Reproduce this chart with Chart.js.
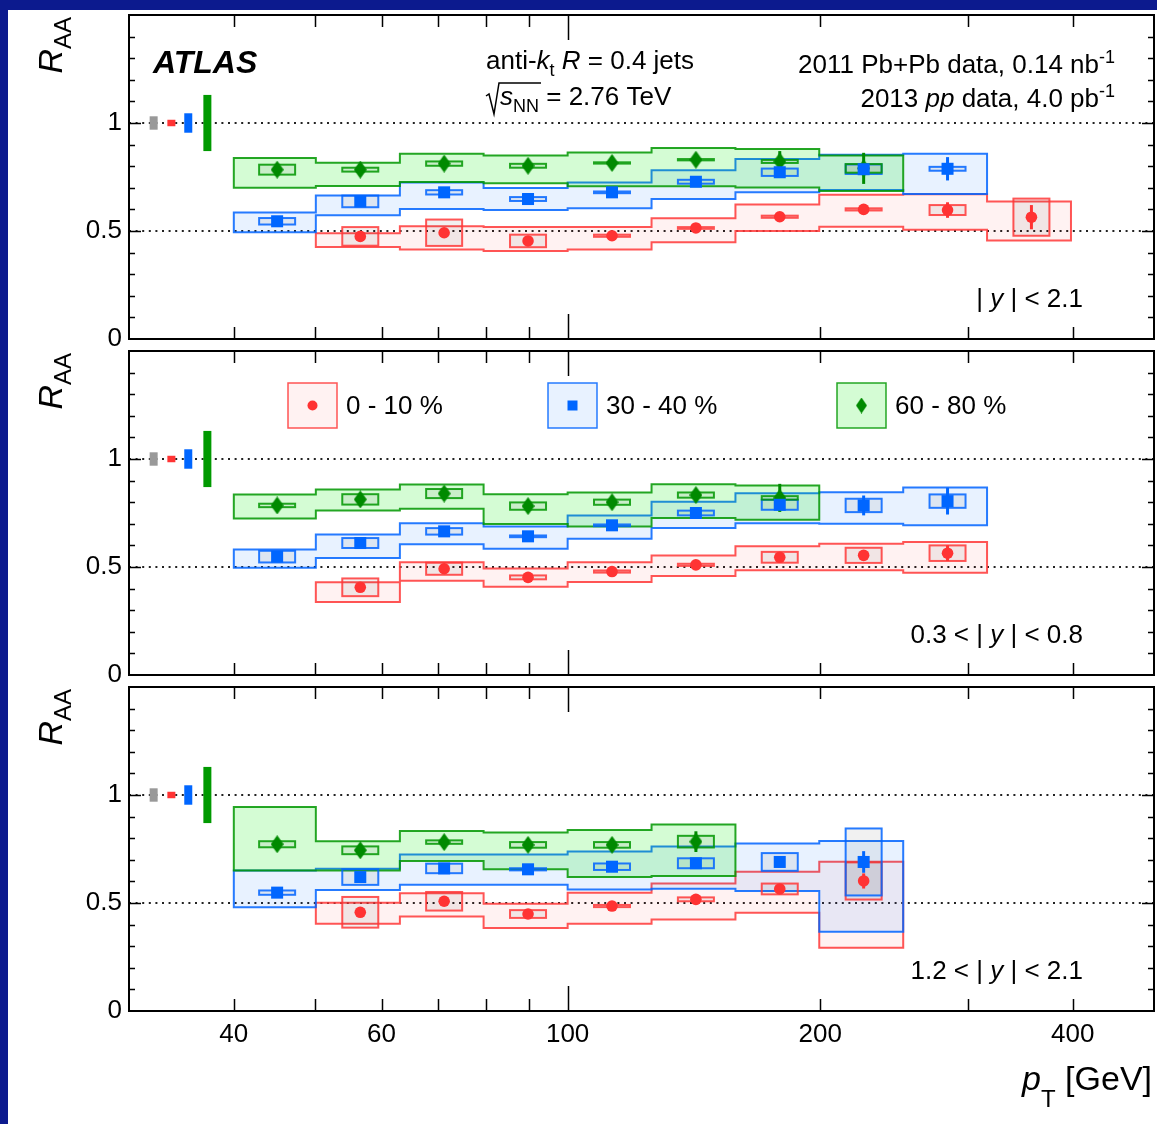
<!DOCTYPE html>
<html>
<head>
<meta charset="utf-8">
<script src="https://cdn.jsdelivr.net/npm/chart.js@4.4.1/dist/chart.umd.min.js"></script>
<style>
html, body { margin: 0; padding: 0; }
body { width: 1157px; height: 1124px; background: #0c1a8e; position: relative; overflow: hidden; }
#sheet { position: absolute; left: 8px; top: 10px; width: 1149px; height: 1114px; background: #fff; }
canvas { position: absolute; left: 0; }
</style>
</head>
<body>
<div id="sheet"></div>
<canvas id="p0" width="1180" height="384" style="top:-15px"></canvas>
<canvas id="p1" width="1180" height="384" style="top:321px"></canvas>
<canvas id="p2" width="1180" height="467" style="top:657px"></canvas>
<script>
// jet pT bins (GeV), log-uniform; points sit at the bin mean
const ptEdges   = [40, 50.1, 63.1, 79.4, 100, 125.9, 158.5, 199.5, 251.2, 316.2, 398.1];
const ptCentres = [45.05, 56.6, 71.25, 89.7, 112.95, 142.2, 179.0, 225.35, 283.7, 357.15];
const xTickLabels = [40, 60, 100, 200, 400];
const yTickLabels = [0, 0.5, 1];

// normalisation uncertainties drawn at R_AA = 1 (pp lumi, 0-10, 30-40, 60-80 %)
const normPt  = [32.1, 33.7, 35.3, 37.2];
const normUnc = [0.031, 0.015, 0.045, 0.13];

// ---- |y| < 2.1 ----
const c010_y21_raa = [null, 0.475, 0.492, 0.454, 0.478, 0.514, 0.566, 0.600, 0.597, 0.564];
const c010_y21_stat = [null, 0.01, 0.01, 0.01, 0.01, 0.01, 0.01, 0.012, 0.036, 0.056];
const c010_y21_unc = [null, 0.043, 0.061, 0.029, 0.005, 0.004, 0.005, 0.005, 0.023, 0.086];
const c010_y21_lo = [null, 0.426, 0.414, 0.407, 0.414, 0.448, 0.500, 0.520, 0.506, 0.456];
const c010_y21_hi = [null, 0.490, 0.522, 0.519, 0.519, 0.559, 0.623, 0.668, 0.670, 0.636];

const c3040_y21_raa = [0.545, 0.637, 0.679, 0.648, 0.679, 0.728, 0.772, 0.786, 0.788, null];
const c3040_y21_stat = [0.01, 0.01, 0.01, 0.01, 0.01, 0.01, 0.012, 0.02, 0.054, null];
const c3040_y21_unc = [0.015, 0.027, 0.010, 0.009, 0.004, 0.009, 0.017, 0.022, 0.009, null];
const c3040_y21_lo = [0.494, 0.573, 0.602, 0.597, 0.605, 0.648, 0.679, 0.690, 0.671, null];
const c3040_y21_hi = [0.586, 0.664, 0.725, 0.699, 0.725, 0.781, 0.833, 0.853, 0.858, null];

const c6080_y21_raa = [0.784, 0.784, 0.812, 0.802, 0.815, 0.830, 0.822, 0.790, null, null];
const c6080_y21_stat = [0.01, 0.01, 0.01, 0.01, 0.01, 0.012, 0.048, 0.072, null, null];
const c6080_y21_unc = [0.023, 0.009, 0.010, 0.009, 0.003, 0.003, 0.007, 0.02, null, null];
const c6080_y21_lo = [0.700, 0.708, 0.727, 0.721, 0.707, 0.707, 0.701, 0.685, null, null];
const c6080_y21_hi = [0.838, 0.816, 0.858, 0.850, 0.863, 0.884, 0.880, 0.849, null, null];

// ---- 0.3 < |y| < 0.8 ----
const c010_y38_raa = [null, 0.406, 0.492, 0.452, 0.479, 0.510, 0.545, 0.554, 0.564, null];
const c010_y38_stat = [null, 0.01, 0.01, 0.01, 0.01, 0.01, 0.01, 0.012, 0.036, null];
const c010_y38_unc = [null, 0.041, 0.028, 0.009, 0.005, 0.005, 0.025, 0.035, 0.036, null];
const c010_y38_lo = [null, 0.338, 0.436, 0.409, 0.430, 0.458, 0.485, 0.485, 0.473, null];
const c010_y38_hi = [null, 0.429, 0.522, 0.493, 0.522, 0.553, 0.596, 0.608, 0.616, null];

const c3040_y38_raa = [0.548, 0.611, 0.665, 0.642, 0.693, 0.750, 0.788, 0.785, 0.805, null];
const c3040_y38_stat = [0.01, 0.01, 0.01, 0.01, 0.01, 0.01, 0.012, 0.046, 0.062, null];
const c3040_y38_unc = [0.027, 0.023, 0.015, 0.004, 0.004, 0.011, 0.023, 0.031, 0.031, null];
const c3040_y38_lo = [0.496, 0.542, 0.605, 0.585, 0.631, 0.680, 0.703, 0.700, 0.693, null];
const c3040_y38_hi = [0.581, 0.651, 0.703, 0.688, 0.739, 0.802, 0.842, 0.846, 0.868, null];

const c6080_y38_raa = [0.785, 0.813, 0.840, 0.782, 0.800, 0.833, 0.820, null, null, null];
const c6080_y38_stat = [0.01, 0.01, 0.01, 0.01, 0.01, 0.01, 0.065, null, null, null];
const c6080_y38_unc = [0.008, 0.024, 0.021, 0.017, 0.012, 0.012, 0.008, null, null, null];
const c6080_y38_lo = [0.724, 0.762, 0.770, 0.699, 0.688, 0.727, 0.719, null, null, null];
const c6080_y38_hi = [0.836, 0.859, 0.882, 0.837, 0.845, 0.883, 0.877, null, null, null];

// ---- 1.2 < |y| < 2.1 ----
const c010_y1221_raa = [null, 0.457, 0.508, 0.449, 0.486, 0.517, 0.565, 0.602, null, null];
const c010_y1221_stat = [null, 0.01, 0.01, 0.01, 0.01, 0.01, 0.01, 0.035, null, null];
const c010_y1221_unc = [null, 0.071, 0.043, 0.018, 0.005, 0.009, 0.025, 0.086, null, null];
const c010_y1221_lo = [null, 0.404, 0.437, 0.384, 0.404, 0.424, 0.455, 0.293, null, null];
const c010_y1221_hi = [null, 0.501, 0.545, 0.497, 0.548, 0.590, 0.645, 0.691, null, null];

const c3040_y1221_raa = [0.548, 0.620, 0.660, 0.656, 0.668, 0.684, 0.690, 0.690, null, null];
const c3040_y1221_stat = [0.01, 0.01, 0.01, 0.01, 0.01, 0.01, 0.025, 0.05, null, null];
const c3040_y1221_unc = [0.010, 0.036, 0.022, 0.005, 0.015, 0.023, 0.041, 0.155, null, null];
const c3040_y1221_lo = [0.480, 0.560, 0.585, 0.585, 0.563, 0.566, 0.556, 0.367, null, null];
const c3040_y1221_hi = [0.651, 0.659, 0.725, 0.725, 0.738, 0.761, 0.776, 0.787, null, null];

const c6080_y1221_raa = [0.772, 0.744, 0.782, 0.769, 0.769, 0.784, null, null, null, null];
const c6080_y1221_stat = [0.01, 0.015, 0.01, 0.01, 0.01, 0.048, null, null, null, null];
const c6080_y1221_unc = [0.014, 0.018, 0.008, 0.013, 0.013, 0.027, null, null, null, null];
const c6080_y1221_lo = [0.651, 0.651, 0.694, 0.656, 0.620, 0.625, null, null, null, null];
const c6080_y1221_hi = [0.944, 0.786, 0.833, 0.826, 0.838, 0.864, null, null, null, null];

const FONT = '"Liberation Sans", Arial, Helvetica, sans-serif';
Chart.defaults.font.family = FONT;
Chart.defaults.color = '#000';

// colours per centrality class
const RED   = { mark: '#ff3333', line: 'rgba(255,55,55,0.85)',  fill: 'rgba(255,0,0,0.05)',   norm: '#ff3333' };
const BLUE  = { mark: '#0066ff', line: 'rgba(0,100,255,0.85)',  fill: 'rgba(0,110,255,0.09)', norm: '#0066ff' };
const GREEN = { mark: '#008a00', line: 'rgba(0,150,0,0.85)',    fill: 'rgba(0,235,0,0.17)',   norm: '#009900' };
const NORM_COLOURS = ['#999999', RED.norm, BLUE.norm, GREEN.norm];

// outer margins of each canvas around its plot frame
const PAD_TOP = 30, PAD_BOTTOM = 30, PAD_RIGHT = 26, X_AXIS_H = 113;

// tall diamond marker for 60-80 %
function diamond(w, h, colour) {
  const c = document.createElement('canvas');
  c.width = w; c.height = h;
  const g = c.getContext('2d');
  g.fillStyle = colour;
  g.beginPath();
  g.moveTo(w / 2, 0); g.lineTo(w, h / 2); g.lineTo(w / 2, h); g.lineTo(0, h / 2);
  g.closePath(); g.fill();
  return c;
}
const diamondMark = diamond(13, 18, GREEN.mark);
const diamondSmall = diamond(11, 16, GREEN.mark);

function fontOf(size, f) {
  return (f.includes('i') ? 'italic ' : '') + (f.includes('b') ? 'bold ' : '') + size + 'px ' + FONT;
}

// parts: [text, flags, dy] ; flags: i italic, b bold, _ subscript, ^ superscript
function drawRich(ctx, parts, x, y, size, align) {
  const items = parts.map(([t, f = '', dy]) => {
    const small = f.includes('_') || f.includes('^');
    const s = small ? Math.round(size * 0.7) : size;
    ctx.font = fontOf(s, f);
    const off = dy !== undefined ? dy : f.includes('_') ? size * 0.28 : f.includes('^') ? -size * 0.4 : 0;
    return { t, f, s, off, w: ctx.measureText(t).width };
  });
  const total = items.reduce((a, it) => a + it.w, 0);
  let cx = align === 'right' ? x - total : x;
  ctx.textAlign = 'left';
  ctx.textBaseline = 'alphabetic';
  for (const it of items) {
    ctx.font = fontOf(it.s, it.f);
    ctx.fillText(it.t, cx, y + it.off);
    cx += it.w;
  }
  return total;
}

function series(colour, marker, raa, stat, unc, lo, hi) {
  return { colour, marker, raa, stat, unc, lo, hi };
}

const panelDefs = {
  p0: {
    label: [['| '], ['y', 'i'], [' | < 2.1']],
    series: [
      series(RED, 'circle', c010_y21_raa, c010_y21_stat, c010_y21_unc, c010_y21_lo, c010_y21_hi),
      series(BLUE, 'rect', c3040_y21_raa, c3040_y21_stat, c3040_y21_unc, c3040_y21_lo, c3040_y21_hi),
      series(GREEN, 'diamond', c6080_y21_raa, c6080_y21_stat, c6080_y21_unc, c6080_y21_lo, c6080_y21_hi)
    ],
    header: true
  },
  p1: {
    label: [['0.3 < | '], ['y', 'i'], [' | < 0.8']],
    series: [
      series(RED, 'circle', c010_y38_raa, c010_y38_stat, c010_y38_unc, c010_y38_lo, c010_y38_hi),
      series(BLUE, 'rect', c3040_y38_raa, c3040_y38_stat, c3040_y38_unc, c3040_y38_lo, c3040_y38_hi),
      series(GREEN, 'diamond', c6080_y38_raa, c6080_y38_stat, c6080_y38_unc, c6080_y38_lo, c6080_y38_hi)
    ],
    legend: true
  },
  p2: {
    label: [['1.2 < | '], ['y', 'i'], [' | < 2.1']],
    series: [
      series(RED, 'circle', c010_y1221_raa, c010_y1221_stat, c010_y1221_unc, c010_y1221_lo, c010_y1221_hi),
      series(BLUE, 'rect', c3040_y1221_raa, c3040_y1221_stat, c3040_y1221_unc, c3040_y1221_lo, c3040_y1221_hi),
      series(GREEN, 'diamond', c6080_y1221_raa, c6080_y1221_stat, c6080_y1221_unc, c6080_y1221_lo, c6080_y1221_hi)
    ],
    xTitle: true
  }
};

const BOX_HALF = 18;   // half width of the uncorrelated-systematics box, px

function bandPath(ctx, x, y, lo, hi) {
  const idx = lo.map((v, i) => (v == null ? -1 : i)).filter(i => i >= 0);
  ctx.beginPath();
  idx.forEach((i, k) => {
    const xl = x.getPixelForValue(ptEdges[i]), xr = x.getPixelForValue(ptEdges[i + 1]);
    const yy = y.getPixelForValue(hi[i]);
    if (k === 0) ctx.moveTo(xl, yy); else ctx.lineTo(xl, yy);
    ctx.lineTo(xr, yy);
  });
  idx.slice().reverse().forEach(i => {
    const xl = x.getPixelForValue(ptEdges[i]), xr = x.getPixelForValue(ptEdges[i + 1]);
    const yy = y.getPixelForValue(lo[i]);
    ctx.lineTo(xr, yy);
    ctx.lineTo(xl, yy);
  });
  ctx.closePath();
}

function drawLegend(ctx, top) {
  const entries = [
    { x: 288, c: RED, m: 'circle', t: '0 - 10 %' },
    { x: 548, c: BLUE, m: 'rect', t: '30 - 40 %' },
    { x: 837, c: GREEN, m: 'diamond', t: '60 - 80 %' }
  ];
  for (const e of entries) {
    const bx = e.x, by = top + 32, bw = 49, bh = 45;
    ctx.fillStyle = '#fff';
    ctx.fillRect(bx, by, bw, bh);
    ctx.fillStyle = e.c.fill;
    ctx.fillRect(bx, by, bw, bh);
    ctx.strokeStyle = e.c.line;
    ctx.lineWidth = 1.5;
    ctx.strokeRect(bx, by, bw, bh);
    const cx = bx + bw / 2, cy = by + bh / 2;
    ctx.fillStyle = e.c.mark;
    if (e.m === 'circle') { ctx.beginPath(); ctx.arc(cx, cy, 5, 0, Math.PI * 2); ctx.fill(); }
    else if (e.m === 'rect') ctx.fillRect(cx - 5, cy - 5, 10, 10);
    else ctx.drawImage(diamondSmall, cx - 5.5, cy - 8);
    ctx.fillStyle = '#000';
    drawRich(ctx, [[e.t]], bx + bw + 9, top + 63, 26, 'left');
  }
}

const panelPlugin = {
  id: 'raaPanel',
  beforeDatasetsDraw(chart) {
    const def = panelDefs[chart.canvas.id];
    const { ctx, chartArea: a } = chart;
    const x = chart.scales.x, y = chart.scales.y;
    ctx.save();
    ctx.beginPath();
    ctx.rect(a.left, a.top, a.right - a.left, a.bottom - a.top);
    ctx.clip();

    // dotted reference lines
    ctx.strokeStyle = '#222';
    ctx.lineWidth = 2;
    ctx.setLineDash([2, 4.6]);
    for (const v of [0.5, 1]) {
      const py = Math.round(y.getPixelForValue(v));
      ctx.beginPath(); ctx.moveTo(a.left, py); ctx.lineTo(a.right, py); ctx.stroke();
    }
    ctx.setLineDash([]);

    // normalisation boxes
    normPt.forEach((pt, i) => {
      const px = x.getPixelForValue(pt);
      const y0 = y.getPixelForValue(1 + normUnc[i]), y1 = y.getPixelForValue(1 - normUnc[i]);
      ctx.fillStyle = NORM_COLOURS[i];
      ctx.fillRect(px - 4, y0, 8, y1 - y0);
    });

    // correlated-systematics bands
    for (const s of def.series) {
      bandPath(ctx, x, y, s.lo, s.hi);
      ctx.fillStyle = s.colour.fill;
      ctx.fill();
      ctx.strokeStyle = s.colour.line;
      ctx.lineWidth = 2;
      ctx.lineJoin = 'miter';
      ctx.stroke();
    }

    // uncorrelated-systematics boxes
    for (const s of def.series) {
      s.raa.forEach((v, i) => {
        if (v == null) return;
        const px = x.getPixelForValue(ptCentres[i]);
        const y0 = y.getPixelForValue(v + s.unc[i]), y1 = y.getPixelForValue(v - s.unc[i]);
        ctx.fillStyle = 'rgba(0,0,0,0.055)';
        ctx.fillRect(px - BOX_HALF, y0, 2 * BOX_HALF, y1 - y0);
        ctx.strokeStyle = s.colour.line;
        ctx.lineWidth = 2;
        ctx.strokeRect(px - BOX_HALF, y0, 2 * BOX_HALF, y1 - y0);
      });
    }

    // statistical error bars
    for (const s of def.series) {
      ctx.strokeStyle = s.colour.mark;
      ctx.lineWidth = 3;
      s.raa.forEach((v, i) => {
        if (v == null) return;
        const px = x.getPixelForValue(ptCentres[i]);
        ctx.beginPath();
        ctx.moveTo(px, y.getPixelForValue(v + s.stat[i]));
        ctx.lineTo(px, y.getPixelForValue(v - s.stat[i]));
        ctx.stroke();
      });
    }
    ctx.restore();
  },
  afterDatasetsDraw(chart) {
    const def = panelDefs[chart.canvas.id];
    const { ctx, chartArea: a } = chart;
    const x = chart.scales.x, y = chart.scales.y;
    ctx.save();

    // frame
    ctx.strokeStyle = '#000';
    ctx.lineWidth = 2;
    ctx.strokeRect(a.left, a.top, a.right - a.left, a.bottom - a.top);

    // inward ticks
    ctx.lineWidth = 1.5;
    ctx.beginPath();
    for (const v of [40, 50, 60, 70, 80, 90, 100, 200, 300, 400]) {
      const px = Math.round(x.getPixelForValue(v)) + 0.5;
      const len = v === 100 ? 25 : 12;
      ctx.moveTo(px, a.bottom); ctx.lineTo(px, a.bottom - len);
      ctx.moveTo(px, a.top); ctx.lineTo(px, a.top + len);
    }
    for (let k = 1; k < 15; k++) {
      const py = Math.round(y.getPixelForValue(k / 10)) + 0.5;
      const len = k % 5 === 0 ? 12 : 6;
      ctx.moveTo(a.left, py); ctx.lineTo(a.left + len, py);
      ctx.moveTo(a.right, py); ctx.lineTo(a.right - len, py);
    }
    ctx.stroke();

    ctx.fillStyle = '#000';
    // y-axis title
    ctx.save();
    ctx.translate(62, a.top + 2);
    ctx.rotate(-Math.PI / 2);
    drawRich(ctx, [['R', 'i'], ['AA', '_', 9]], 0, 0, 34, 'right');
    ctx.restore();

    // rapidity selection
    drawRich(ctx, def.label, 1083, a.top + 292, 26, 'right');

    if (def.header) {
      drawRich(ctx, [['ATLAS', 'bi']], 153, a.top + 58, 32, 'left');
      drawRich(ctx, [['anti-'], ['k', 'i'], ['t', '_', 7], [' '], ['R', 'i'], [' = 0.4 jets']], 486, a.top + 54, 26, 'left');
      // sqrt(s_NN) with radical sign
      const bx = 500, by = a.top + 90;
      ctx.save();
      ctx.font = fontOf(26, 'i');
      const wS = ctx.measureText('s').width;
      ctx.font = fontOf(18, '');
      const wNN = ctx.measureText('NN').width;
      ctx.restore();
      ctx.strokeStyle = '#000';
      ctx.lineWidth = 1.5;
      ctx.beginPath();
      ctx.moveTo(486, by - 9); ctx.lineTo(489, by - 11);
      ctx.lineTo(494, by + 9); ctx.lineTo(499, by - 22);
      ctx.lineTo(bx + wS + wNN + 2, by - 22);
      ctx.stroke();
      drawRich(ctx, [['s', 'i'], ['NN', '_', 7], [' = 2.76 TeV']], bx, by, 26, 'left');
      drawRich(ctx, [['2011 Pb+Pb data, 0.14 nb'], ['-1', '^', -10]], 1115, a.top + 58, 26, 'right');
      drawRich(ctx, [['2013 '], ['pp', 'i'], [' data, 4.0 pb'], ['-1', '^', -10]], 1115, a.top + 92, 26, 'right');
    }
    if (def.legend) drawLegend(ctx, a.top);
    if (def.xTitle) {
      drawRich(ctx, [['p', 'i'], ['T', '_', 17], [' [GeV]']], 1152, a.bottom + 79, 34, 'right');
    }
    ctx.restore();
  }
};

function markerStyle(m) {
  if (m === 'circle') return { pointStyle: 'circle', pointRadius: 5.8 };
  if (m === 'rect') return { pointStyle: 'rect', pointRadius: 8.5 };
  return { pointStyle: diamondMark, pointRadius: 7 };
}

function makePanel(id, showX) {
  const def = panelDefs[id];
  const datasets = def.series.map(s => Object.assign({
    data: s.raa.map((v, i) => (v == null ? null : { x: ptCentres[i], y: v })).filter(Boolean),
    backgroundColor: s.colour.mark,
    borderColor: s.colour.mark,
    borderWidth: 0,
    showLine: false
  }, markerStyle(s.marker)));

  return new Chart(document.getElementById(id), {
    type: 'scatter',
    data: { datasets },
    options: {
      responsive: false,
      animation: false,
      devicePixelRatio: 1,
      layout: { padding: { top: PAD_TOP, right: PAD_RIGHT, bottom: showX ? 0 : PAD_BOTTOM, left: 0 } },
      plugins: { legend: { display: false }, tooltip: { enabled: false } },
      scales: {
        x: {
          type: 'logarithmic',
          min: 30,
          max: 500,
          display: showX,
          grid: { display: false, drawTicks: false },
          border: { display: false },
          afterBuildTicks: s => { s.ticks = xTickLabels.map(v => ({ value: v })); },
          afterFit: s => { s.height = showX ? X_AXIS_H : 0; },
          ticks: {
            autoSkip: false, maxRotation: 0, padding: 8,
            font: { size: 26 }, color: '#000',
            callback: v => String(v)
          }
        },
        y: {
          min: 0,
          max: 1.5,
          grid: { display: false, drawTicks: false },
          border: { display: false },
          afterBuildTicks: s => { s.ticks = yTickLabels.map(v => ({ value: v })); },
          afterFit: s => { s.width = 129; },
          ticks: {
            padding: 7,
            font: { size: 26 }, color: '#000',
            callback: v => String(v)
          }
        }
      }
    },
    plugins: [panelPlugin]
  });
}

makePanel('p0', false);
makePanel('p1', false);
makePanel('p2', true);
</script>
</body>
</html>
